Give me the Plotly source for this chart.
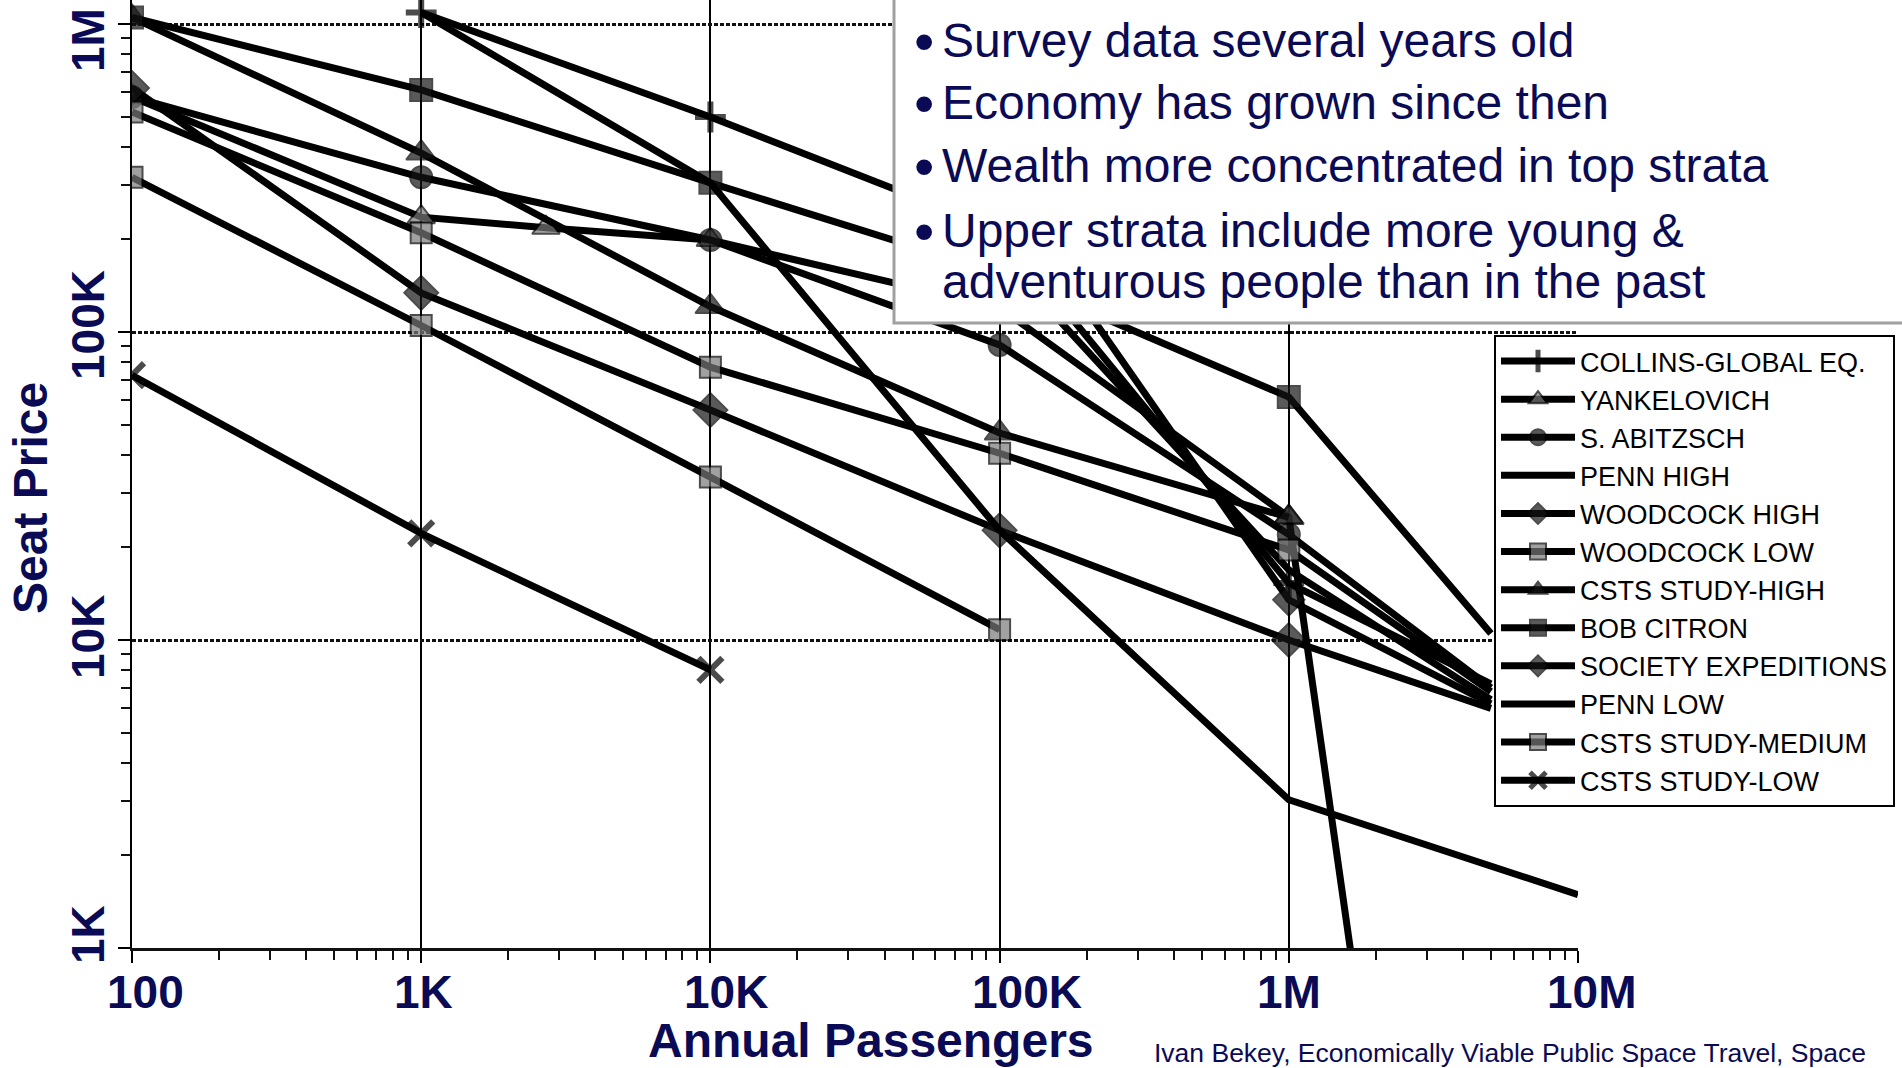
import math
import plotly.graph_objects as go

# ---- survey data: annual passengers vs. seat price (US$) ----
collins_x = [1e3, 1e4, 1e5, 1e6, 5e6]
collins_y = [1.09e6, 4.99e5, 2.14e5, 1.53e4, 7.2e3]

yankelovich_x = [1e2, 1e3, 2.7e3, 1e4, 1e5, 1e6, 2e6]
yankelovich_y = [5.8e5, 2.36e5, 2.18e5, 1.99e5, 1.2e5, 2.51e4, 260]

abitzsch_x = [1e2, 1e3, 1e4, 1e5, 1e6, 5e6]
abitzsch_y = [5.8e5, 3.18e5, 1.99e5, 9.08e4, 2.2e4, 7.0e3]

penn_high_x = [1e5, 1e6, 5e6]
penn_high_y = [1.77e5, 1.69e4, 6.4e3]

woodcock_high_x = [1e2, 1e3, 1e4, 1e5, 1e6, 5e6]
woodcock_high_y = [6.2e5, 1.34e5, 5.58e4, 2.27e4, 1.0e4, 6.0e3]

woodcock_low_x = [1e2, 1e3, 1e4, 1e5, 1e6, 5e6]
woodcock_low_y = [5.18e5, 2.10e5, 7.69e4, 4.04e4, 1.96e4, 6.8e3]

csts_high_x = [1e2, 1e3, 1e4, 1e5, 1e6]
csts_high_y = [1.05e6, 3.81e5, 1.21e5, 4.7e4, 2.5e4]

citron_x = [1e2, 1e3, 1e4, 1e5, 1e6, 5e6]
citron_y = [1.05e6, 6.11e5, 3.05e5, 1.55e5, 6.15e4, 1.05e4]

society_x = [1e5, 1e6, 5e6]
society_y = [3.0e5, 1.35e4, 6.2e3]

penn_low_x = [1e3, 1e4, 1e5, 1e6, 1e7]
penn_low_y = [1.09e6, 3.05e5, 2.27e4, 3.03e3, 1.49e3]

csts_medium_x = [1e2, 1e3, 1e4, 1e5]
csts_medium_y = [3.18e5, 1.05e5, 3.38e4, 1.08e4]

csts_low_x = [1e2, 1e3, 1e4]
csts_low_y = [7.24e4, 2.22e4, 8.0e3]

x_tick_values = [1e2, 1e3, 1e4, 1e5, 1e6, 1e7]
x_tick_labels = ["100", "1K", "10K", "100K", "1M", "10M"]
y_tick_values = [1e3, 1e4, 1e5, 1e6]
y_tick_labels = ["1K", "10K", "100K", "1M"]

bullets = [
    "Survey data several years old",
    "Economy has grown since then",
    "Wealth more concentrated in top strata",
    "Upper strata include more young &",
]
bullet_continuation = "adventurous people than in the past"
citation = "Ivan Bekey, Economically Viable Public Space Travel, Space"

# ---- page geometry (pixels) ----
W, H = 1902, 1068
PL, PR, PT, PB = 132, 1578, 0, 948          # plot area edges
NAVY = "#0b0b55"
FONT = "Liberation Sans"


def px_x(px):
    return (px - PL) / (PR - PL)


def px_y(py):
    return (PB - py) / (PB - PT)


GRAY = "#7a7a7a"
DARK = "#151515"
series = [
    ("COLLINS-GLOBAL EQ.", collins_x, collins_y, "cross-thin", "black", 22),
    ("YANKELOVICH", yankelovich_x, yankelovich_y, "triangle-up", GRAY, 24),
    ("S. ABITZSCH", abitzsch_x, abitzsch_y, "circle", DARK, 22),
    ("PENN HIGH", penn_high_x, penn_high_y, None, None, 0),
    ("WOODCOCK HIGH", woodcock_high_x, woodcock_high_y, "diamond", DARK, 26),
    ("WOODCOCK LOW", woodcock_low_x, woodcock_low_y, "square", GRAY, 21),
    ("CSTS STUDY-HIGH", csts_high_x, csts_high_y, "triangle-up", DARK, 26),
    ("BOB CITRON", citron_x, citron_y, "square", DARK, 22),
    ("SOCIETY EXPEDITIONS", society_x, society_y, "diamond", DARK, 24),
    ("PENN LOW", penn_low_x, penn_low_y, None, None, 0),
    ("CSTS STUDY-MEDIUM", csts_medium_x, csts_medium_y, "square", GRAY, 21),
    ("CSTS STUDY-LOW", csts_low_x, csts_low_y, "x-thin", "black", 24),
]

fig = go.Figure()
for name, xs, ys, symbol, fill, size in series:
    if symbol is None:
        fig.add_trace(go.Scatter(x=xs, y=ys, name=name, mode="lines",
                                 line=dict(color="black", width=7)))
        continue
    thin = symbol.endswith("-thin")
    # end points at the far right carry no marker
    sizes = [size if x < 4e6 else 0 for x in xs]
    fig.add_trace(go.Scatter(
        x=xs, y=ys, name=name, mode="lines+markers",
        line=dict(color="black", width=7),
        marker=dict(symbol=symbol, size=sizes, color=fill,
                    line=dict(color="black", width=6 if thin else 2)),
    ))

minor_x = [k * 10 ** e for e in range(2, 7) for k in range(2, 10)]
minor_y = [k * 10 ** e for e in range(3, 6) for k in range(2, 10)]

fig.update_xaxes(
    type="log", range=[2, 7],
    tickvals=x_tick_values, showticklabels=False,
    showgrid=True, gridcolor="black", gridwidth=2,
    showline=True, linecolor="#111", linewidth=3,
    ticks="outside", ticklen=12, tickwidth=2, tickcolor="black",
    minor=dict(tickvals=minor_x, ticks="outside", ticklen=9, tickwidth=2,
               tickcolor="#111", showgrid=False),
    zeroline=False,
)
fig.update_yaxes(
    type="log", range=[3, 6.078],
    tickvals=y_tick_values, showticklabels=False,
    showgrid=True, gridcolor="#111", gridwidth=3, griddash="4px,2px",
    showline=True, linecolor="black", linewidth=2,
    ticks="outside", ticklen=12, tickwidth=2, tickcolor="black",
    minor=dict(tickvals=minor_y, ticks="outside", ticklen=9, tickwidth=2,
               tickcolor="#111", showgrid=False),
    zeroline=False,
)

annotations = []
# x tick labels under the decade lines
x_label_shift = [13, 2, 16, 27, 0, 13]
for v, lab, sh in zip(x_tick_values, x_tick_labels, x_label_shift):
    annotations.append(dict(
        xref="x", yref="paper", x=math.log10(v), y=px_y(992), xshift=sh,
        text=lab, showarrow=False, xanchor="center", yanchor="middle",
        font=dict(family=FONT, size=46, color=NAVY, weight="bold")))
# rotated y tick labels
y_label_shift = [13, 3, 7, -16]
for v, lab, sh in zip(y_tick_values, y_tick_labels, y_label_shift):
    annotations.append(dict(
        xref="paper", yref="y", x=0, y=math.log10(v), xshift=-44, yshift=sh,
        text=lab, textangle=-90, showarrow=False, xanchor="center", yanchor="middle",
        font=dict(family=FONT, size=46, color=NAVY, weight="bold")))
# axis titles
annotations.append(dict(
    xref="paper", yref="paper", x=px_x(30), y=px_y(498), text="Seat Price",
    textangle=-90, showarrow=False, xanchor="center", yanchor="middle",
    font=dict(family=FONT, size=48, color=NAVY, weight="bold")))
annotations.append(dict(
    xref="paper", yref="paper", x=px_x(871), y=px_y(1040), text="Annual Passengers",
    showarrow=False, xanchor="center", yanchor="middle",
    font=dict(family=FONT, size=48, color=NAVY, weight="bold")))
annotations.append(dict(
    xref="paper", yref="paper", x=px_x(1152), y=px_y(1053), text=citation,
    showarrow=False, xanchor="left", yanchor="middle",
    font=dict(family=FONT, size=26.5, color=NAVY)))

# bullet list in the call-out box
line_centres = [40, 103, 166, 230]
for txt, cy in zip(bullets, line_centres):
    annotations.append(dict(
        xref="paper", yref="paper", x=px_x(924), y=px_y(cy), text="•",
        showarrow=False, xanchor="center", yanchor="middle",
        font=dict(family=FONT, size=58, color=NAVY)))
    annotations.append(dict(
        xref="paper", yref="paper", x=px_x(940), y=px_y(cy), text=txt,
        showarrow=False, xanchor="left", yanchor="middle",
        font=dict(family=FONT, size=48, color=NAVY)))
annotations.append(dict(
    xref="paper", yref="paper", x=px_x(940), y=px_y(281), text=bullet_continuation,
    showarrow=False, xanchor="left", yanchor="middle",
    font=dict(family=FONT, size=48, color=NAVY)))

fig.update_layout(
    width=W, height=H,
    margin=dict(l=PL, r=W - PR, t=PT, b=H - PB, pad=0),
    paper_bgcolor="white", plot_bgcolor="white",
    showlegend=True,
    legend=dict(
        x=px_x(1494), y=px_y(335), xanchor="left", yanchor="top",
        bgcolor="white", bordercolor="black", borderwidth=2,
        font=dict(family=FONT, size=27, color="black"),
        itemwidth=74, tracegroupgap=0,
    ),
    shapes=[dict(
        type="rect", xref="paper", yref="paper", layer="above",
        x0=px_x(894), x1=px_x(1910), y0=px_y(323), y1=px_y(-10),
        fillcolor="white", line=dict(color="#a0a0a0", width=3),
    )],
    annotations=annotations,
)

fig.write_html("out.html")
